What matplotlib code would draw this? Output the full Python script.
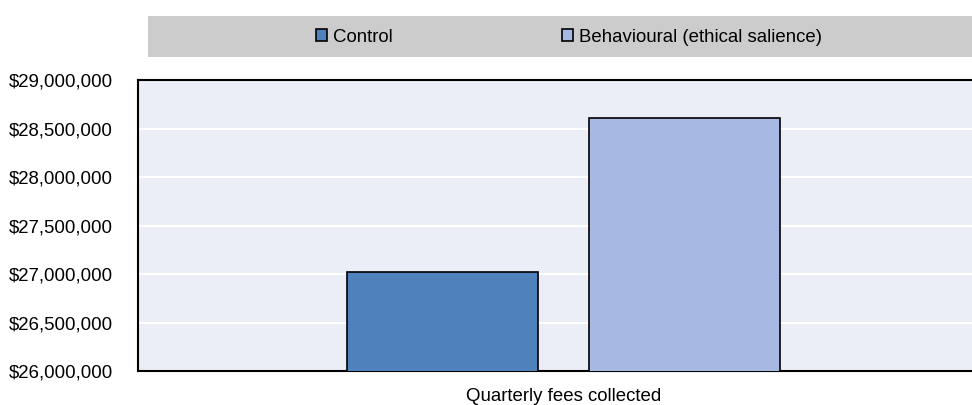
import matplotlib
matplotlib.use("Agg")
import matplotlib.pyplot as plt
from matplotlib.patches import Rectangle
from matplotlib.ticker import FuncFormatter

plt.rcParams["font.family"] = ["Liberation Sans", "DejaVu Sans"]

category = ["Quarterly fees collected"]
series_names = ["Control", "Behavioural (ethical salience)"]
series_values = [27020000, 28610000]
series_colors = ["#4F81BD", "#A7B8E2"]
y_ticks = [26000000, 26500000, 27000000, 27500000, 28000000, 28500000, 29000000]

FS = 13.4

fig = plt.figure(figsize=(9.72, 4.05), dpi=100)
ax = fig.add_axes([0.142, 0.084, 0.858, 0.718])
ax.set_facecolor("#ECEEF7")

bar_w = 0.229
offsets = [-0.145, 0.145]
handles = []
for name, val, col, off in zip(series_names, series_values, series_colors, offsets):
    h = ax.bar(off, val, width=bar_w, color=col, edgecolor="black",
               linewidth=1.2, label=name, zorder=3)
    handles.append(h)

ax.set_xlim(-0.51, 0.49)
ax.set_ylim(y_ticks[0], y_ticks[-1])
ax.set_yticks(y_ticks)
ax.yaxis.set_major_formatter(FuncFormatter(lambda v, p: f"${v:,.0f}"))
ax.set_xticks([0])
ax.set_xticklabels(category)
ax.tick_params(axis="y", length=0, pad=18, labelsize=FS)
ax.tick_params(axis="x", length=0, pad=12, labelsize=FS)
ax.grid(axis="y", color="white", linewidth=1.5, zorder=0)
ax.set_axisbelow(True)

for s in ["left", "top", "bottom"]:
    ax.spines[s].set_color("black")
    ax.spines[s].set_linewidth(1.5)
ax.spines["right"].set_visible(False)

# grey legend band above the plot
fig.patches.append(Rectangle((148 / 972, 1 - 57 / 405), 1 - 148 / 972, 41 / 405,
                             transform=fig.transFigure, facecolor="#CCCCCC",
                             edgecolor="none", zorder=0))

# one legend entry per series, placed along the band
entry_x = [316 / 972, 562 / 972]
for h, name, x in zip(handles, series_names, entry_x):
    leg = fig.legend(handles=[h], labels=[name], loc="center left",
                     bbox_to_anchor=(x, 1 - 37 / 405), frameon=False,
                     fontsize=FS, handlelength=0.6, handleheight=0.6,
                     handletextpad=0.3, borderaxespad=0, borderpad=0)

fig.savefig("out.png", dpi=100)
